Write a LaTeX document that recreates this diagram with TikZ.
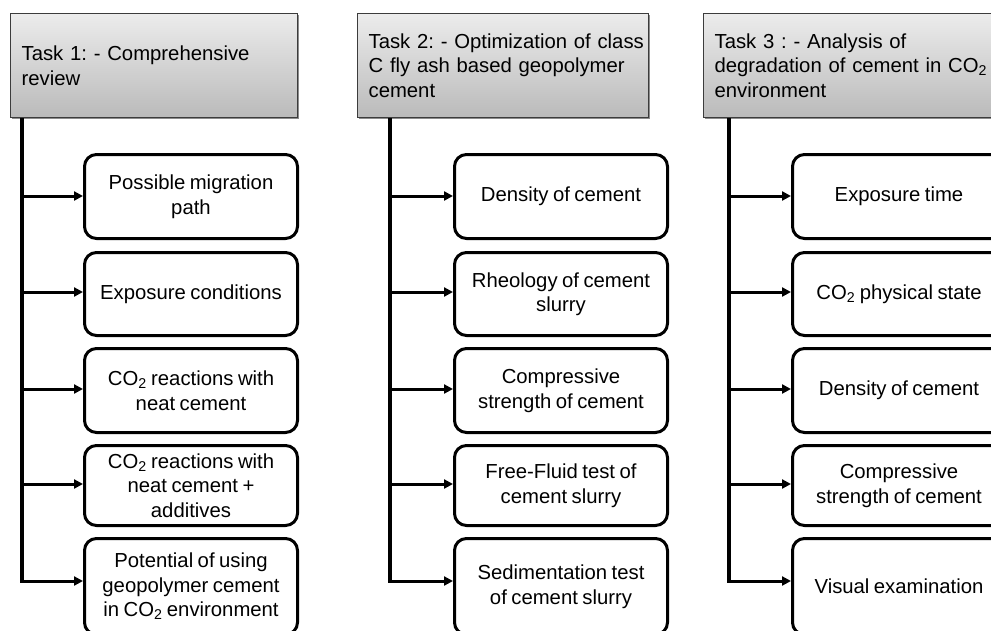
\documentclass[tikz,border=0pt]{standalone}
\usepackage{fontspec}
\setmainfont{Liberation Sans}
\usetikzlibrary{arrows.meta,shadows}
\definecolor{hdtop}{RGB}{236,236,236}
\definecolor{hdbot}{RGB}{186,186,186}
\definecolor{hdline}{RGB}{60,60,60}
\newcommand{\boxfont}{\fontsize{20.3}{24.5}\selectfont\frenchspacing\spaceskip=0.22em plus 0.1em minus 0.05em\relax}
\tikzset{
 header/.style={draw=hdline, line width=1.2pt, top color=hdtop, bottom color=hdbot,
   anchor=north west, align=left, inner xsep=11pt, inner ysep=0pt,
   minimum height=104pt, font=\boxfont,
   drop shadow={shadow xshift=1.5pt, shadow yshift=-1.5pt, fill=black, opacity=0.45}},
 item/.style={draw=black, line width=3pt, rounded corners=12pt, fill=white,
   anchor=north west, align=center, minimum width=213pt, inner sep=0pt,
   font=\boxfont},
 trunk/.style={line width=3.2pt},
 arr/.style={line width=3pt, -{Triangle[length=9pt,width=9pt]}}
}
\begin{document}
\begin{tikzpicture}[x=1pt,y=-1pt]
\path[use as bounding box] (0,0) rectangle (991,630);
\clip (0,0) rectangle (991,630);
\fill[white] (0,0) rectangle (991,630);

% headers
\node[header, text width=265pt] (h1) at (10,13) {\mbox{Task 1: - Comprehensive}\\review};
\node[header, text width=269pt] (h2) at (357,13) {\mbox{Task 2: - Optimization of class}\\\mbox{C fly ash based geopolymer}\\cement};
\node[header, text width=300pt] (h3) at (703,13) {\mbox{Task 3 : - Analysis of}\\\mbox{degradation of cement in CO\textsubscript{2}}\\environment};

% column 1
\node[item, minimum height=84pt] (b11) at (83,153) {Possible migration\\path};
\node[item, minimum height=83pt] (b12) at (83,251) {Exposure conditions};
\node[item, minimum height=84pt] (b13) at (83,347) {CO\textsubscript{2} reactions with\\neat cement};
\node[item, minimum height=80pt] (b14) at (83,444) {CO\textsubscript{2} reactions with\\neat cement +\\additives};
\node[item, minimum height=96pt] (b15) at (83,537) {Potential of using\\geopolymer cement\\in CO\textsubscript{2} environment};

% column 2
\node[item, minimum height=84pt] (b21) at (453,153) {Density of cement};
\node[item, minimum height=83pt] (b22) at (453,251) {Rheology of cement\\slurry};
\node[item, minimum height=84pt] (b23) at (453,347) {Compressive\\strength of cement};
\node[item, minimum height=80pt] (b24) at (453,444) {Free-Fluid test of\\cement slurry};
\node[item, minimum height=96pt] (b25) at (453,537) {Sedimentation test\\of cement slurry};

% column 3
\node[item, minimum height=84pt] (b31) at (791,153) {Exposure time};
\node[item, minimum height=83pt] (b32) at (791,251) {CO\textsubscript{2} physical state};
\node[item, minimum height=84pt] (b33) at (791,347) {Density of cement};
\node[item, minimum height=80pt] (b34) at (791,444) {Compressive\\strength of cement};
\node[item, minimum height=96pt] (b35) at (791,537) {Visual examination};

% trunk coordinates
\foreach \c/\x in {1/22,2/390,3/729}{
  \coordinate (top\c) at (\x,118);
  \coordinate (j\c1) at (\x,196);
  \coordinate (j\c2) at (\x,292);
  \coordinate (j\c3) at (\x,389);
  \coordinate (j\c4) at (\x,484);
  \coordinate (j\c5) at (\x,581);
}
\foreach \c in {1,2,3}{
  \draw[trunk] (top\c) -- ([yshift=-1.5pt]j\c5);
  \foreach \r in {1,2,3,4}{
    \draw[arr] (j\c\r) -- (j\c\r -| b\c\r.west);
  }
  \draw[arr] (j\c5) -- (j\c5 -| b\c5.west);
}
\end{tikzpicture}
\end{document}
